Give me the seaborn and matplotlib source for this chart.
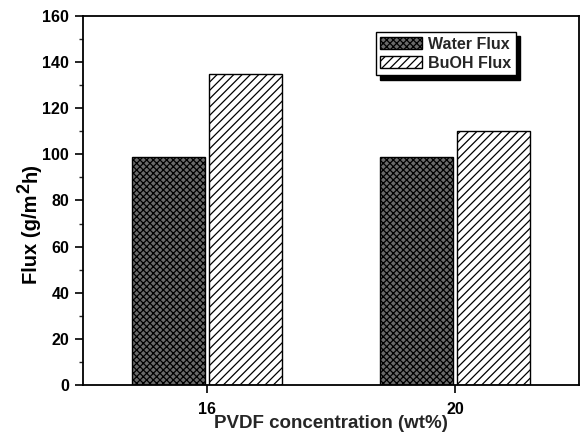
import matplotlib
matplotlib.use("Agg")
import matplotlib.pyplot as plt
from matplotlib.patches import Patch
from matplotlib.ticker import MultipleLocator
from matplotlib.transforms import IdentityTransform
import seaborn as sns
import pandas as pd

# PVDF concentration (wt%) and measured fluxes (g/m^2 h)
concentrations = ["16", "20"]
water_flux = [99, 99]
buoh_flux = [135, 110]
series_names = ["Water Flux", "BuOH Flux"]

df = pd.DataFrame({
    "conc": concentrations * 2,
    "flux": water_flux + buoh_flux,
    "series": [series_names[0]] * len(concentrations) + [series_names[1]] * len(concentrations),
})

sns.set_theme(style="ticks")
plt.rcParams["font.family"] = ["Liberation Sans", "DejaVu Sans"]
plt.rcParams["font.weight"] = "bold"
plt.rcParams["hatch.linewidth"] = 0.9

fig = plt.figure(figsize=(5.81, 4.38), dpi=100)
ax = fig.add_axes([0.1429, 0.121, 0.8537, 0.8425])

styles = {
    series_names[0]: dict(facecolor="#6a6a6a", hatch="xxxxx"),
    series_names[1]: dict(facecolor="white", hatch="////"),
}

sns.barplot(data=df, x="conc", y="flux", hue="series", hue_order=series_names,
            width=0.62, gap=0.05, ax=ax, legend=False, saturation=1)

# apply fill / hatch per series (bars are stored hue-group by hue-group)
n = len(concentrations)
for i, bar in enumerate(ax.patches):
    st = styles[series_names[i // n]]
    bar.set_facecolor(st["facecolor"])
    bar.set_hatch(st["hatch"])
    bar.set_edgecolor("black")
    bar.set_linewidth(1.0)

ax.set_xlim(-0.5, 1.5)
ax.set_ylim(0, 160)
ax.yaxis.set_major_locator(MultipleLocator(20))
ax.yaxis.set_minor_locator(MultipleLocator(10))
ax.tick_params(axis="both", which="major", direction="out", length=6, width=1.2,
               labelsize=11.5, color="black", labelcolor="black")
ax.tick_params(axis="x", which="major", pad=6)
ax.tick_params(axis="y", which="major", pad=4)
ax.tick_params(axis="y", which="minor", direction="out", length=3, width=1.0)
for lab in ax.get_xticklabels() + ax.get_yticklabels():
    lab.set_fontweight("bold")

for sp in ax.spines.values():
    sp.set_visible(True)
    sp.set_color("black")
    sp.set_linewidth(1.3)

ax.set_xlabel("PVDF concentration (wt%)", fontsize=13.5, fontweight="bold", labelpad=-1.5)
ax.set_ylabel("")

# y-axis title with a full-size raised "2", built from three rotated pieces
label_kw = dict(rotation=90, rotation_mode="anchor", ha="left", va="baseline",
                fontsize=14.5, fontweight="bold", color="black",
                transform=IdentityTransform())
renderer = fig.canvas.get_renderer()
base_x, base_y = 37, 438 - 284
t1 = fig.text(base_x, base_y, "Flux (g/m", **label_kw)
y_next = t1.get_window_extent(renderer).y1 + 1.5
t2 = fig.text(base_x - 8, y_next, "2", **{**label_kw, "fontsize": 13})
y_next = t2.get_window_extent(renderer).y1 + 1
fig.text(base_x, y_next, "h)", **label_kw)

handles = [Patch(facecolor=styles[s]["facecolor"], hatch=styles[s]["hatch"],
                 edgecolor="black", linewidth=1.0, label=s) for s in series_names]
leg = ax.legend(handles=handles, loc="upper left", bbox_to_anchor=(0.59, 0.957),
                frameon=True, fancybox=False, edgecolor="black", framealpha=1,
                prop={"weight": "bold", "size": 11.5}, handlelength=2.6,
                handleheight=0.8, handletextpad=0.4, borderpad=0.3, labelspacing=0.25,
                borderaxespad=0, shadow={"ox": 3, "oy": -3, "color": "black", "alpha": 1})
leg.get_frame().set_linewidth(1.0)

fig.savefig("out.png", dpi=100)
